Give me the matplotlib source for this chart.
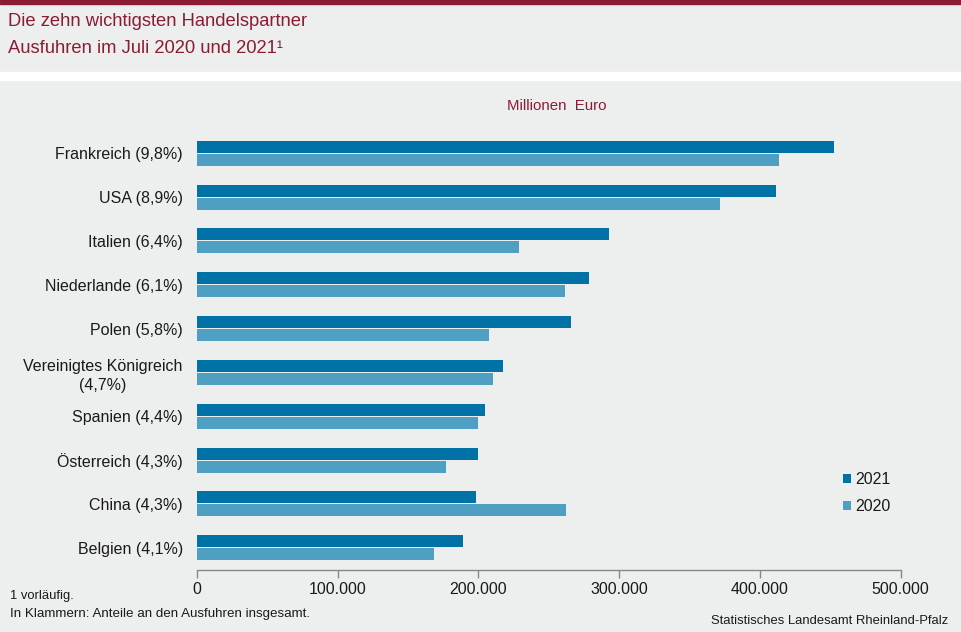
"""
Die zehn wichtigsten Handelspartner - Ausfuhren im Juli 2020 und 2021
"""

# import libraries
import numpy as np
import matplotlib
matplotlib.use("Agg")
import matplotlib.pyplot as plt
from matplotlib.patches import Rectangle
from matplotlib.ticker import FuncFormatter

# data (Millionen Euro)
countries = ["Frankreich (9,8%)", "USA (8,9%)", "Italien (6,4%)", "Niederlande (6,1%)",
             "Polen (5,8%)", "Vereinigtes Königreich\n(4,7%)", "Spanien (4,4%)",
             "Österreich (4,3%)", "China (4,3%)", "Belgien (4,1%)"]
values_2021 = [452400, 411200, 292600, 278400, 265600, 217300, 204500, 199600, 198200, 188900]
values_2020 = [413400, 371400, 228700, 261400, 207500, 210200, 199600, 176800, 262300, 168300]
series_labels = ["2021", "2020"]
x_ticks = [0, 100000, 200000, 300000, 400000, 500000]

# styles
bg = "#edefee"
dark_red = "#8b1c33"
col_2021 = "#0072a5"
col_2020 = "#4f9fc2"
text_col = "#1a1a1a"
plt.rcParams["font.family"] = ["Liberation Sans", "DejaVu Sans"]

fig = plt.figure(figsize=(9.61, 6.32), dpi=100)
fig.patch.set_facecolor(bg)

# header bands
fig.add_artist(Rectangle((0, 1 - 4 / 632), 1, 4 / 632, transform=fig.transFigure,
                         color=dark_red, zorder=0))
fig.add_artist(Rectangle((0, 1 - 80 / 632), 1, 8 / 632, transform=fig.transFigure,
                         color="white", zorder=0))
fig.text(8 / 961, 1 - 21 / 632, "Die zehn wichtigsten Handelspartner", color=dark_red,
         fontsize=13.2, va="center", ha="left")
fig.text(8 / 961, 1 - 48.5 / 632, "Ausfuhren im Juli 2020 und 2021\u00b9", color=dark_red,
         fontsize=13.2, va="center", ha="left")

ax = fig.add_axes([196.7 / 961, 1 - 570 / 632, 704 / 961, 439 / 632])
ax.set_facecolor(bg)

pos = np.arange(len(countries))
h = 0.274
ax.barh(pos - 0.148, values_2021, height=h, color=col_2021, label=series_labels[0])
ax.barh(pos + 0.148, values_2020, height=h, color=col_2020, label=series_labels[1])

ax.set_xlim(0, 500000)
ax.set_ylim(9.51, -0.51)
ax.set_yticks(pos)
ax.set_yticklabels(countries, fontsize=11.5, color=text_col, ha="right",
                   multialignment="center", linespacing=1.35)
ax.tick_params(axis="y", length=0, pad=10)
ax.set_xticks(x_ticks)
ax.xaxis.set_major_formatter(FuncFormatter(lambda v, p: f"{int(v):,}".replace(",", ".")))
ax.tick_params(axis="x", direction="out", length=6, width=1, color="#888888",
               labelsize=11.5, labelcolor=text_col, pad=3)

for side in ["top", "right", "left"]:
    ax.spines[side].set_visible(False)
ax.spines["bottom"].set_color("#888888")
ax.spines["bottom"].set_linewidth(1)

ax.text(0.512, 1.057, "Millionen  Euro", transform=ax.transAxes, ha="center", va="center",
        color=dark_red, fontsize=10.8)

leg = ax.legend(loc="upper left", bbox_to_anchor=(829 / 961, 1 - 458 / 632),
                bbox_transform=fig.transFigure, frameon=False, fontsize=11.5,
                handlelength=0.5, handleheight=0.5, handletextpad=0.25, labelspacing=0.75)
for t in leg.get_texts():
    t.set_color(text_col)

# footer
fig.text(10 / 961, 1 - 596 / 632, "1 vorläufig.", fontsize=9.4, color=text_col, va="center")
fig.text(10 / 961, 1 - 614 / 632, "In Klammern: Anteile an den Ausfuhren insgesamt.",
         fontsize=9.6, color=text_col, va="center")
fig.text(948 / 961, 1 - 621 / 632, "Statistisches Landesamt Rheinland-Pfalz",
         fontsize=9.4, color=text_col, va="center", ha="right")

plt.savefig("out.png", dpi=100, facecolor=fig.get_facecolor())
